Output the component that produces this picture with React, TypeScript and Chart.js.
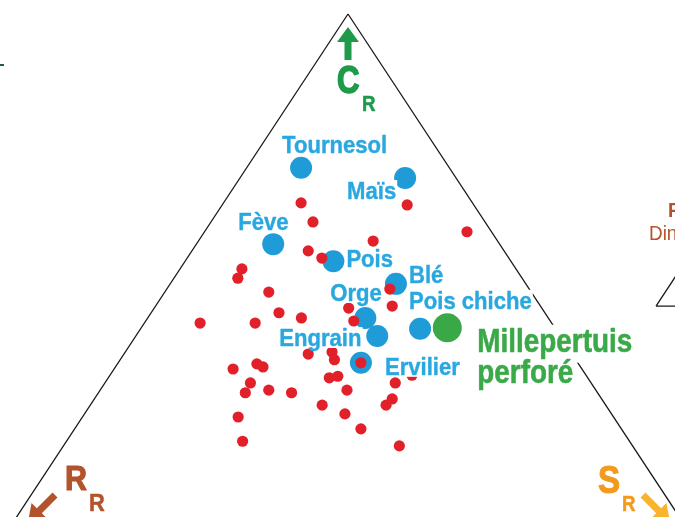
import React, { useEffect, useRef } from 'react';
import { Chart, registerables } from 'chart.js';

Chart.register(...registerables);

const FONT = '"Liberation Sans", Arial, sans-serif';

// Ternary coordinates in % : C (competitor), S (stress-tolerator); R = 100 - C - S
const cropNames = ['Tournesol', 'Maïs', 'Fève', 'Pois', 'Blé', 'Orge', 'Engrain', 'Ervilier', 'Pois chiche'];
const cropC = [70.2, 68.2, 55.4, 52.1, 47.7, 41.1, 37.6, 32.4, 39.0];
const cropS = [8.0, 24.3, 11.3, 21.8, 33.2, 32.0, 35.5, 35.7, 41.1];

const weedName = ['Millepertuis', 'perforé'];
const weedC = [39.2];
const weedS = [45.0];

const otherC = [
  63.4, 59.7, 63.0, 57.8, 56.0, 54.1, 52.7, 50.6, 48.8, 46.1, 46.7, 43.4, 43.0, 40.5,
  42.1, 41.1, 40.1, 40.1, 34.1, 34.5, 33.0, 31.2, 32.2, 31.6, 28.5, 26.6, 27.1, 26.6,
  29.5, 29.8, 24.2, 21.9, 17.2, 32.4, 30.0, 28.5, 27.1, 25.4, 24.2, 22.5, 19.6, 16.3,
];
const otherS = [
  11.4, 15.0, 27.2, 38.6, 25.7, 17.1, 19.8, 9.1, 9.4, 15.3, 32.8, 34.8, 28.6, 30.6,
  18.8, 22.6, 8.2, 16.3, 27.1, 30.4, 31.5, 17.5, 20.5, 21.7, 21.4, 21.6, 24.8, 28.4,
  32.5, 33.6, 34.1, 22.9, 25.9, 35.7, 44.4, 42.7, 36.3, 43.8, 43.5, 38.3, 42.1, 49.4,
];

// triangle vertices (C, S): apex C, corner R, corner S
const triC = [100, 0, 0, 100];
const triS = [0, 0, 100, 0];

const toXY = (c: number, s: number) => ({ x: s + c / 2, y: c });

// label placement (pixel offsets from the point: left edge, baseline)
const labelOffsets: Record<string, [number, number]> = {
  Tournesol: [-19, -15],
  'Maïs': [-58, 21],
  'Fève': [-35, -14],
  Pois: [13, 6],
  'Blé': [13, -1],
  Orge: [-35, -17],
  Engrain: [-98, 10],
  Ervilier: [24, 12],
  'Pois chiche': [-11, -20],
};

function drawText(
  ctx: CanvasRenderingContext2D,
  text: string,
  x: number,
  y: number,
  size: number,
  weight: string,
  color: string,
  sx: number,
  box?: [number, number] | null,
  stroke = 0
) {
  ctx.save();
  ctx.font = `${weight} ${size}px ${FONT}`;
  const w = ctx.measureText(text).width * sx;
  if (box) {
    ctx.fillStyle = '#ffffff';
    ctx.fillRect(x - 1, y - box[0], w + 2, box[0] + box[1]);
  }
  ctx.translate(x, y);
  ctx.scale(sx, 1);
  ctx.textBaseline = 'alphabetic';
  ctx.textAlign = 'left';
  ctx.fillStyle = color;
  ctx.fillText(text, 0, 0);
  if (stroke > 0) {
    ctx.strokeStyle = color;
    ctx.lineWidth = stroke;
    ctx.lineJoin = 'round';
    ctx.strokeText(text, 0, 0);
  }
  ctx.restore();
}

function arrow(
  ctx: CanvasRenderingContext2D,
  x1: number, y1: number, x2: number, y2: number,
  shaftW: number, headW: number, headL: number, color: string
) {
  const dx = x2 - x1, dy = y2 - y1;
  const len = Math.hypot(dx, dy);
  const ux = dx / len, uy = dy / len;
  const nx = -uy, ny = ux;
  const bx = x2 - ux * headL, by = y2 - uy * headL;
  ctx.save();
  ctx.beginPath();
  ctx.moveTo(x1 + (nx * shaftW) / 2, y1 + (ny * shaftW) / 2);
  ctx.lineTo(bx + (nx * shaftW) / 2, by + (ny * shaftW) / 2);
  ctx.lineTo(bx + (nx * headW) / 2, by + (ny * headW) / 2);
  ctx.lineTo(x2, y2);
  ctx.lineTo(bx - (nx * headW) / 2, by - (ny * headW) / 2);
  ctx.lineTo(bx - (nx * shaftW) / 2, by - (ny * shaftW) / 2);
  ctx.lineTo(x1 - (nx * shaftW) / 2, y1 - (ny * shaftW) / 2);
  ctx.closePath();
  ctx.fillStyle = color;
  ctx.fill();
  ctx.restore();
}

const annotationPlugin = {
  id: 'ternaryAnnotations',
  afterDatasetsDraw(chart: any) {
    const ctx: CanvasRenderingContext2D = chart.ctx;
    const xs = chart.scales.x;
    const ys = chart.scales.y;
    const blueText = '#29a8e0';

    cropNames.forEach((name, i) => {
      const p = toXY(cropC[i], cropS[i]);
      const px = xs.getPixelForValue(p.x);
      const py = ys.getPixelForValue(p.y);
      const off = labelOffsets[name];
      drawText(ctx, name, px + off[0], py + off[1], 24, 'bold', blueText, 0.92, [19, 2], 0.4);
    });

    const wp = toXY(weedC[0], weedS[0]);
    const wx = xs.getPixelForValue(wp.x);
    const wy = ys.getPixelForValue(wp.y);
    drawText(ctx, weedName[0], wx + 30, wy + 24, 33, 'bold', '#3aaa48', 0.845, [27, 11], 0.6);
    drawText(ctx, weedName[1], wx + 30, wy + 55, 33, 'bold', '#3aaa48', 0.845, [21, 8], 0.6);

    // pole labels
    arrow(ctx, 348, 60, 348, 27, 7, 22, 15, '#1e9a4b');
    drawText(ctx, 'C', 337, 93, 39, 'bold', '#1e9a4b', 0.8, null, 1.6);
    drawText(ctx, 'R', 362, 111, 22, 'bold', '#1e9a4b', 0.85, null, 0.5);

    arrow(ctx, 55, 495, 28, 522, 7, 22, 16, '#b3532b');
    drawText(ctx, 'R', 65, 490, 35, 'bold', '#b3532b', 0.87, null, 1.2);
    drawText(ctx, 'R', 89, 511, 23, 'bold', '#b3532b', 0.95, null, 0.5);

    arrow(ctx, 643, 495, 670, 522, 7, 22, 16, '#f7b42c');
    drawText(ctx, 'S', 598, 493, 38, 'bold', '#f39a1e', 0.87, null, 1.2);
    drawText(ctx, 'R', 622, 511, 22, 'bold', '#f39a1e', 0.85, null, 0.5);

    // cropped neighbouring elements
    drawText(ctx, 'F', 668, 217, 21, 'bold', '#b3532b', 0.9);
    drawText(ctx, 'Din', 649, 240, 21, 'normal', '#b3532b', 0.9);
    ctx.save();
    ctx.fillStyle = '#1d5e3c';
    ctx.fillRect(0, 64, 4, 2);
    ctx.restore();
  },
};

export default function App() {
  const canvasRef = useRef<HTMLCanvasElement | null>(null);

  useEffect(() => {
    if (!canvasRef.current) return;
    const triangle = triC.map((c, i) => toXY(c, triS[i]));
    const mini = [
      { x: 95.3, y: 43.4 },
      { x: 110, y: 43.4 },
      { x: 102.65, y: 58.1 },
      { x: 95.3, y: 43.4 },
    ];
    const chart = new Chart(canvasRef.current, {
      type: 'scatter',
      data: {
        datasets: [
          {
            label: 'Adventices',
            data: otherC.map((c, i) => toXY(c, otherS[i])),
            backgroundColor: '#e2202a',
            borderWidth: 0,
            pointRadius: 5.6,
            order: 1,
          },
          {
            label: 'Cultures',
            data: cropC.map((c, i) => toXY(c, cropS[i])),
            backgroundColor: '#1f9bd7',
            borderWidth: 0,
            pointRadius: 11,
            order: 2,
          },
          {
            label: 'Millepertuis perforé',
            data: weedC.map((c, i) => toXY(c, weedS[i])),
            backgroundColor: '#39a948',
            borderWidth: 0,
            pointRadius: 14.5,
            order: 2,
          },
          {
            label: 'Triangle',
            data: triangle,
            showLine: true,
            borderColor: '#1a1a1a',
            borderWidth: 1.3,
            pointRadius: 0,
            tension: 0,
            fill: false,
            order: 3,
          },
          {
            label: 'Triangle 2',
            data: mini,
            showLine: true,
            borderColor: '#1a1a1a',
            borderWidth: 1.3,
            pointRadius: 0,
            tension: 0,
            fill: false,
            order: 3,
          },
        ],
      },
      options: {
        animation: false,
        responsive: false,
        maintainAspectRatio: false,
        devicePixelRatio: 1,
        events: [],
        layout: { padding: 0, autoPadding: false },
        plugins: {
          legend: { display: false },
          tooltip: { enabled: false },
        },
        scales: {
          x: { type: 'linear', display: false, min: -1.1765, max: 98.0882 },
          y: { type: 'linear', display: false, min: 2.5194, max: 102.7132 },
        },
      },
      plugins: [annotationPlugin],
    });
    return () => chart.destroy();
  }, []);

  return (
    <div style={{ position: 'absolute', left: 0, top: 0, width: 675, height: 517, background: '#ffffff' }}>
      <canvas ref={canvasRef} width={675} height={517} style={{ display: 'block', width: 675, height: 517 }} />
    </div>
  );
}
